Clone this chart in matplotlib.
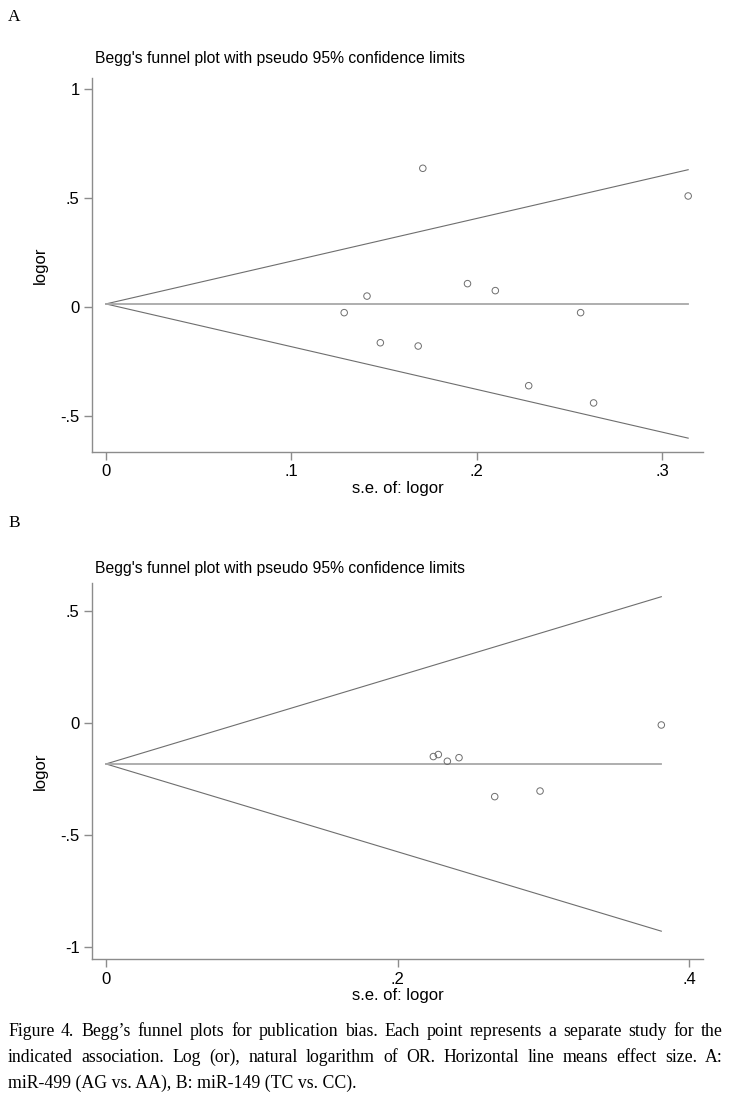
import matplotlib
matplotlib.use('Agg')
import matplotlib.pyplot as plt

# Панель A: miR-499 (AG vs. AA)
se_a = [0.1285, 0.1408, 0.148, 0.1684, 0.1709, 0.195, 0.210, 0.228, 0.256, 0.263, 0.314]
logor_a = [-0.026, 0.050, -0.164, -0.179, 0.636, 0.107, 0.075, -0.361, -0.026, -0.440, 0.509]
pooled_a = 0.014
xticks_a = [0, 0.1, 0.2, 0.3]
xlabels_a = ['0', '.1', '.2', '.3']
yticks_a = [-0.5, 0, 0.5, 1]
ylabels_a = ['-.5', '0', '.5', '1']

# Панель B: miR-149 (TC vs. CC)
se_b = [0.2246, 0.228, 0.2342, 0.2422, 0.2667, 0.2978, 0.381]
logor_b = [-0.150, -0.141, -0.171, -0.155, -0.329, -0.304, -0.009]
pooled_b = -0.183
xticks_b = [0, 0.2, 0.4]
xlabels_b = ['0', '.2', '.4']
yticks_b = [-1, -0.5, 0, 0.5]
ylabels_b = ['-1', '-.5', '0', '.5']

title = "Begg's funnel plot with pseudo 95% confidence limits"
caption_lines = [
    "Figure 4. Begg\u2019s funnel plots for publication bias. Each point represents a separate study for the",
    "indicated association. Log (or), natural logarithm of OR. Horizontal line means effect size. A:",
    "miR-499 (AG vs. AA), B: miR-149 (TC vs. CC).",
]

W, H = 731, 1102
fig = plt.figure(figsize=(W / 100, H / 100), dpi=100)
sans = ['Liberation Sans', 'DejaVu Sans']
serif = ['Liberation Serif', 'DejaVu Serif']
gray = '#8c8c8c'


def funnel(rect, se, logor, pooled, xlim, ylim, xt, xl, yt, yl):
    ax = fig.add_axes(rect)
    smax = max(se)
    # линии псевдо 95% доверительных границ
    ax.plot([0, smax], [pooled, pooled + 1.96 * smax], color='#6e6e6e', lw=0.8)
    ax.plot([0, smax], [pooled, pooled - 1.96 * smax], color='#6e6e6e', lw=0.8)
    ax.plot([0, smax], [pooled, pooled], color='#a8a8a8', lw=1.3)
    ax.scatter(se, logor, s=22, facecolors='none', edgecolors='#6e6e6e', linewidths=0.7, zorder=3)
    ax.set_xlim(xlim)
    ax.set_ylim(ylim)
    ax.set_xticks(xt)
    ax.set_xticklabels(xl)
    ax.set_yticks(yt)
    ax.set_yticklabels(yl)
    for s in ['top', 'right']:
        ax.spines[s].set_visible(False)
    for s in ['left', 'bottom']:
        ax.spines[s].set_color(gray)
        ax.spines[s].set_linewidth(1.0)
    ax.tick_params(direction='out', length=6, width=1.0, color=gray, pad=3,
                   labelsize=12, labelcolor='black')
    for t in ax.get_xticklabels() + ax.get_yticklabels():
        t.set_family(sans)
    ax.set_xlabel('s.e. of: logor', family=sans, fontsize=12, labelpad=1)
    ax.set_ylabel('logor', family=sans, fontsize=12, labelpad=9)
    return ax


axA = funnel([92 / W, 1 - 452 / H, 611 / W, 374 / H], se_a, logor_a, pooled_a,
             (-0.0075, 0.322), (-0.665, 1.05), xticks_a, xlabels_a, yticks_a, ylabels_a)
axB = funnel([92 / W, 1 - 959 / H, 611 / W, 376 / H], se_b, logor_b, pooled_b,
             (-0.0096, 0.4096), (-1.054, 0.625), xticks_b, xlabels_b, yticks_b, ylabels_b)

fig.text(95 / W, 1 - 58 / H, title, family=sans, fontsize=11.3, va='center', ha='left')
fig.text(95 / W, 1 - 568 / H, title, family=sans, fontsize=11.3, va='center', ha='left')
fig.text(8 / W, 1 - 17 / H, 'A', family=serif, fontsize=12.5, va='center', ha='left')
fig.text(8 / W, 1 - 523 / H, 'B', family=serif, fontsize=12.5, va='center', ha='left')

# подпись с выравниванием по ширине (по базовой линии)
fig.canvas.draw()
r = fig.canvas.get_renderer()
x0, x1 = 8, 723
ys = [1036, 1062, 1088]
fs = 12.8
for i, line in enumerate(caption_lines):
    y = 1 - ys[i] / H
    words = line.split(' ')
    if i == len(caption_lines) - 1:
        fig.text(x0 / W, y, line, family=serif, fontsize=fs, va='baseline', ha='left')
        continue
    arts = [fig.text(0, y, w_, family=serif, fontsize=fs, va='baseline', ha='left') for w_ in words]
    widths = [a.get_window_extent(r).width for a in arts]
    gap = (x1 - x0 - sum(widths)) / (len(words) - 1)
    xpos = x0
    for a, wd in zip(arts, widths):
        a.set_x(xpos / W)
        xpos += wd + gap

fig.savefig('out.png', dpi=100)
